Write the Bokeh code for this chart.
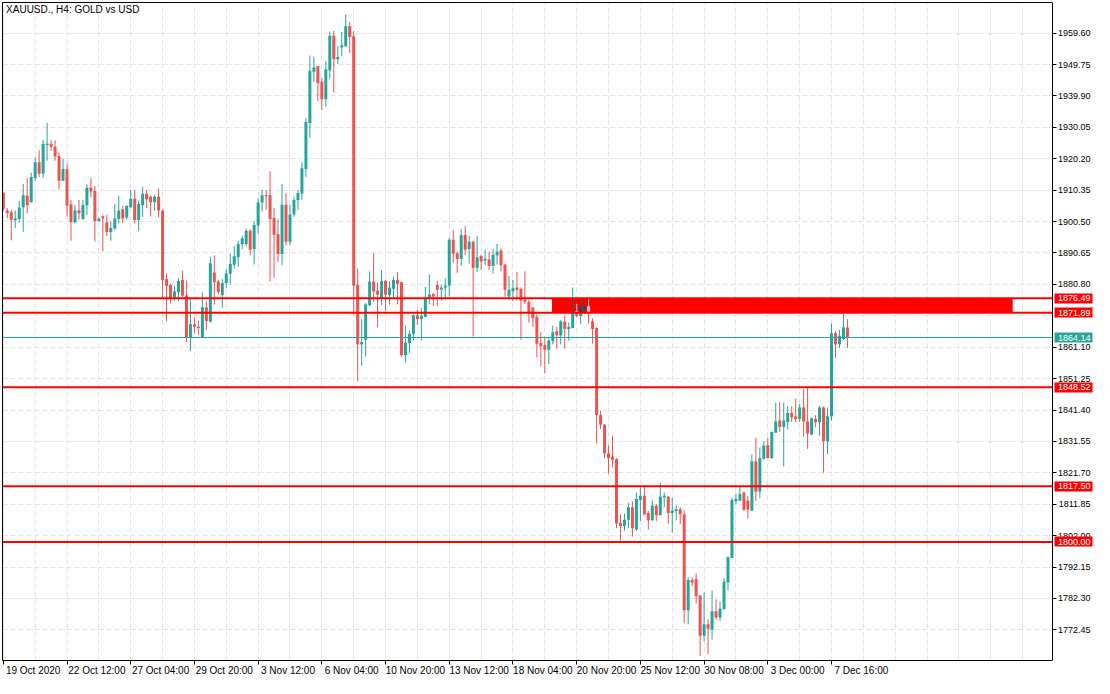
from bokeh.plotting import figure
from bokeh.models import ColumnDataSource, Range1d, FixedTicker, Label, NumeralTickFormatter, LinearAxis
from bokeh.embed import file_html
from bokeh.resources import INLINE

chart_title = "XAUUSD., H4:  GOLD vs USD"

opens = [
    1909.5, 1904.0, 1903.4, 1900.9, 1901.3, 1905.0, 1908.6, 1906.6, 1914.2, 1919.1,
    1915.5, 1924.7, 1924.9, 1924.0, 1921.1, 1913.3, 1916.9, 1905.9, 1900.3, 1904.0,
    1901.3, 1905.6, 1911.1, 1910.1, 1900.6, 1902.2, 1900.3, 1897.2, 1898.3, 1901.3,
    1904.4, 1901.8, 1905.0, 1907.7, 1901.0, 1905.6, 1909.2, 1908.3, 1906.6, 1908.3,
    1904.0, 1882.5, 1880.6, 1876.7, 1878.3, 1882.2, 1877.3, 1864.2, 1868.3, 1867.5,
    1864.2, 1873.6, 1869.1, 1884.5, 1881.7, 1877.4, 1881.2, 1884.1, 1887.0, 1889.3,
    1893.5, 1893.5, 1897.6, 1891.9, 1899.3, 1906.5, 1908.8, 1908.8, 1901.6, 1896.5,
    1890.3, 1905.8, 1894.2, 1902.7, 1907.3, 1909.3, 1917.0, 1931.4, 1947.5, 1949.3,
    1944.4, 1938.9, 1948.0, 1958.8, 1951.4, 1955.2, 1955.5, 1961.8, 1958.6, 1880.6,
    1862.0, 1863.4, 1874.3, 1881.7, 1878.8, 1876.3, 1881.9, 1877.4, 1879.4, 1882.2,
    1881.5, 1858.6, 1862.4, 1865.3, 1871.1, 1869.9, 1870.6, 1876.5, 1877.8, 1880.6,
    1879.2, 1879.8, 1880.4, 1894.8, 1890.6, 1888.8, 1896.3, 1891.9, 1894.2, 1886.0,
    1889.7, 1888.3, 1888.6, 1886.6, 1889.9, 1891.4, 1887.0, 1877.0, 1878.6, 1879.8,
    1879.4, 1876.0, 1875.3, 1873.5, 1870.6, 1862.4, 1861.7, 1860.3, 1863.0, 1866.1,
    1864.8, 1869.1, 1866.8, 1867.1, 1872.4, 1870.9, 1872.9, 1873.9, 1869.2, 1867.1,
    1839.8, 1836.8, 1827.8, 1826.8, 1826.0, 1806.0, 1805.0, 1807.0, 1810.9, 1803.9,
    1813.2, 1814.5, 1809.1, 1806.8, 1811.4, 1808.4, 1814.0, 1814.2, 1809.1, 1809.7,
    1810.3, 1808.7, 1778.6, 1788.1, 1788.4, 1783.2, 1770.6, 1774.2, 1772.5, 1778.3,
    1776.3, 1778.9, 1787.3, 1795.0, 1812.8, 1813.0, 1815.5, 1813.0, 1809.9, 1825.3,
    1815.8, 1826.1, 1830.4, 1826.3, 1834.3, 1838.1, 1836.1, 1837.6, 1840.5, 1839.4,
    1838.6, 1842.2, 1837.8, 1833.7, 1838.6, 1837.6, 1842.2, 1831.6, 1839.4, 1865.5,
    1862.0, 1863.7, 1867.3,
]
highs = [
    1909.8, 1904.8, 1904.2, 1904.0, 1907.1, 1912.3, 1914.1, 1915.8, 1920.6, 1922.9,
    1926.2, 1931.5, 1926.0, 1926.0, 1922.1, 1920.2, 1918.7, 1907.3, 1905.6, 1907.3,
    1907.3, 1912.2, 1914.1, 1911.7, 1901.7, 1902.6, 1902.6, 1900.6, 1906.0, 1908.6,
    1905.5, 1905.6, 1910.4, 1910.4, 1907.1, 1911.3, 1910.4, 1908.6, 1908.9, 1910.8,
    1904.2, 1884.2, 1881.1, 1880.3, 1882.7, 1885.0, 1881.9, 1876.5, 1870.4, 1869.5,
    1878.3, 1875.5, 1889.5, 1889.9, 1882.2, 1882.5, 1885.6, 1890.4, 1892.9, 1894.5,
    1896.0, 1898.3, 1898.1, 1900.6, 1907.8, 1910.4, 1910.4, 1916.3, 1904.7, 1901.3,
    1912.2, 1909.5, 1905.8, 1908.3, 1910.4, 1919.1, 1932.9, 1952.6, 1952.2, 1949.3,
    1945.7, 1950.9, 1960.1, 1960.3, 1955.5, 1960.0, 1965.4, 1963.1, 1960.3, 1885.8,
    1869.9, 1875.0, 1884.9, 1890.6, 1881.5, 1885.3, 1882.2, 1881.7, 1883.2, 1884.7,
    1881.7, 1868.0, 1866.3, 1871.4, 1872.9, 1873.3, 1880.0, 1883.9, 1878.1, 1881.9,
    1880.8, 1882.7, 1895.5, 1897.9, 1891.1, 1898.1, 1899.1, 1896.0, 1894.5, 1896.0,
    1890.1, 1891.7, 1891.1, 1891.9, 1893.5, 1892.1, 1887.3, 1883.4, 1882.2, 1884.7,
    1879.8, 1884.9, 1876.0, 1873.7, 1871.4, 1865.8, 1864.4, 1864.2, 1867.8, 1867.5,
    1869.6, 1870.9, 1868.8, 1879.8, 1874.7, 1876.0, 1874.7, 1876.5, 1870.2, 1867.3,
    1841.2, 1837.0, 1830.4, 1833.3, 1826.3, 1808.7, 1808.9, 1812.2, 1812.8, 1815.5,
    1817.1, 1817.6, 1809.7, 1813.0, 1811.9, 1818.6, 1815.5, 1814.5, 1813.8, 1811.4,
    1810.9, 1809.9, 1788.9, 1788.9, 1790.2, 1783.4, 1784.1, 1775.8, 1784.8, 1782.0,
    1781.2, 1788.6, 1795.5, 1813.8, 1815.2, 1817.3, 1815.8, 1814.5, 1827.5, 1832.7,
    1829.6, 1831.6, 1832.7, 1834.7, 1843.7, 1843.9, 1843.7, 1842.7, 1842.5, 1844.9,
    1843.2, 1848.0, 1848.3, 1839.1, 1839.8, 1842.7, 1842.5, 1842.2, 1868.5, 1866.1,
    1866.5, 1871.6, 1869.9,
]
lows = [
    1903.8, 1901.6, 1894.6, 1898.5, 1900.1, 1897.3, 1903.2, 1906.5, 1913.4, 1914.5,
    1914.2, 1919.6, 1922.7, 1919.6, 1910.6, 1913.2, 1902.1, 1894.5, 1899.9, 1901.1,
    1901.1, 1902.6, 1908.1, 1894.2, 1900.5, 1891.2, 1896.0, 1894.5, 1897.8, 1899.9,
    1900.1, 1901.1, 1904.8, 1899.9, 1897.5, 1901.9, 1904.7, 1902.1, 1903.9, 1901.9,
    1876.7, 1869.3, 1874.8, 1875.7, 1875.5, 1877.0, 1862.7, 1859.9, 1865.4, 1864.9,
    1864.2, 1866.6, 1868.8, 1874.5, 1877.6, 1873.5, 1879.6, 1880.8, 1885.8, 1886.3,
    1891.9, 1892.7, 1889.9, 1887.0, 1896.8, 1903.7, 1904.2, 1881.7, 1882.9, 1887.8,
    1886.8, 1893.1, 1893.1, 1902.0, 1904.2, 1907.3, 1914.5, 1926.8, 1944.4, 1938.3,
    1935.5, 1936.5, 1945.2, 1940.9, 1949.9, 1952.4, 1955.2, 1953.4, 1871.4, 1850.4,
    1855.2, 1858.1, 1874.0, 1875.3, 1867.3, 1874.3, 1872.4, 1874.5, 1876.3, 1874.5,
    1858.1, 1856.2, 1859.3, 1863.2, 1868.1, 1863.2, 1870.6, 1874.5, 1874.0, 1874.0,
    1875.7, 1876.0, 1877.0, 1887.5, 1884.4, 1886.6, 1889.9, 1887.3, 1864.4, 1884.7,
    1885.3, 1886.8, 1885.3, 1884.2, 1887.0, 1884.9, 1877.0, 1876.0, 1875.5, 1875.7,
    1863.4, 1874.7, 1868.8, 1867.5, 1857.9, 1855.0, 1852.8, 1855.8, 1862.0, 1860.6,
    1862.0, 1860.6, 1863.2, 1867.1, 1870.4, 1868.3, 1871.4, 1868.5, 1862.2, 1830.9,
    1835.5, 1826.3, 1821.4, 1823.4, 1804.3, 1800.4, 1803.5, 1804.3, 1801.7, 1803.5,
    1806.6, 1808.4, 1803.9, 1806.6, 1806.6, 1808.4, 1810.9, 1805.6, 1802.9, 1806.8,
    1805.6, 1774.5, 1774.2, 1786.1, 1780.7, 1764.3, 1768.9, 1764.8, 1769.4, 1775.6,
    1775.2, 1778.9, 1784.8, 1795.0, 1811.9, 1812.8, 1809.7, 1807.3, 1809.7, 1812.8,
    1813.8, 1825.8, 1826.3, 1826.1, 1834.3, 1834.5, 1823.7, 1835.3, 1837.6, 1837.6,
    1837.6, 1833.0, 1829.2, 1833.5, 1836.0, 1833.3, 1821.7, 1827.5, 1838.1, 1857.9,
    1860.9, 1863.4, 1860.9,
]
closes = [
    1904.5, 1903.2, 1901.1, 1901.5, 1904.9, 1908.8, 1905.6, 1914.5, 1919.1, 1915.5,
    1924.9, 1924.9, 1924.0, 1920.9, 1913.3, 1917.0, 1905.5, 1900.3, 1904.0, 1903.0,
    1905.7, 1911.1, 1909.9, 1900.6, 1901.5, 1901.5, 1897.2, 1898.5, 1901.5, 1904.0,
    1901.5, 1905.4, 1907.7, 1901.0, 1906.0, 1909.2, 1907.5, 1906.6, 1908.3, 1904.0,
    1882.2, 1880.3, 1876.5, 1878.6, 1881.9, 1877.2, 1864.2, 1868.3, 1867.5, 1867.3,
    1873.6, 1869.3, 1887.4, 1881.5, 1878.4, 1881.2, 1884.2, 1887.2, 1889.6, 1893.5,
    1895.3, 1897.6, 1891.7, 1899.4, 1906.5, 1908.8, 1908.6, 1901.3, 1896.4, 1890.3,
    1905.8, 1894.2, 1902.7, 1907.3, 1909.5, 1917.2, 1931.7, 1947.8, 1948.8, 1944.0,
    1938.9, 1948.3, 1958.8, 1951.4, 1952.1, 1955.8, 1961.8, 1958.4, 1880.4, 1862.0,
    1862.7, 1874.5, 1881.7, 1878.6, 1877.6, 1881.9, 1877.6, 1879.8, 1882.2, 1881.0,
    1858.6, 1862.5, 1865.3, 1871.1, 1869.9, 1870.9, 1876.5, 1877.6, 1877.0, 1879.1,
    1879.8, 1880.4, 1894.8, 1890.4, 1888.8, 1896.3, 1891.7, 1894.2, 1886.0, 1889.3,
    1888.0, 1888.8, 1886.6, 1890.1, 1891.1, 1886.8, 1879.1, 1879.1, 1879.6, 1879.1,
    1875.7, 1875.3, 1871.6, 1870.2, 1862.2, 1861.4, 1860.3, 1863.2, 1865.8, 1864.8,
    1869.2, 1866.8, 1867.5, 1871.9, 1870.9, 1873.3, 1873.9, 1872.2, 1866.8, 1839.8,
    1836.8, 1827.8, 1826.3, 1825.8, 1805.8, 1805.0, 1807.0, 1810.9, 1804.3, 1813.5,
    1814.5, 1808.7, 1806.8, 1811.4, 1808.4, 1814.2, 1814.5, 1809.1, 1809.9, 1810.3,
    1808.7, 1778.6, 1788.1, 1787.3, 1783.0, 1770.6, 1774.2, 1772.8, 1778.3, 1776.3,
    1779.1, 1787.5, 1795.2, 1813.2, 1813.5, 1815.0, 1810.1, 1810.1, 1825.3, 1815.8,
    1826.3, 1830.2, 1826.3, 1834.5, 1837.8, 1836.1, 1838.1, 1840.5, 1839.1, 1838.6,
    1842.2, 1837.8, 1834.0, 1838.8, 1837.6, 1842.2, 1831.6, 1839.4, 1865.5, 1862.0,
    1864.7, 1867.3, 1864.14,
]

tick_bars = [0, 16, 32, 48, 64, 80, 96, 112, 128, 144, 160, 176, 192, 208]
tick_labels = ["19 Oct 2020", "22 Oct 12:00", "27 Oct 04:00", "29 Oct 20:00", "3 Nov 12:00",
               "6 Nov 04:00", "10 Nov 20:00", "13 Nov 12:00", "18 Nov 04:00", "20 Nov 20:00",
               "25 Nov 12:00", "30 Nov 08:00", "3 Dec 00:00", "7 Dec 16:00"]
price_ticks = [1959.60, 1949.75, 1939.90, 1930.05, 1920.20, 1910.35, 1900.50, 1890.65,
               1880.80, 1870.95, 1861.10, 1851.25, 1841.40, 1831.55, 1821.70, 1811.85,
               1802.00, 1792.15, 1782.30, 1772.45]
level_lines = [1876.49, 1871.89, 1848.52, 1817.50, 1800.00]
last_price = 1864.14
zone_low = 1871.89
zone_high = 1876.49
zone_start_bar = 137.8
zone_end_bar = 253.5

# ---- styling / layout ----
GREEN = "#26a69a"
RED = "#ef5350"
GREEN_IN_ZONE = "#25454c"
RED_IN_ZONE = "#f6bcbc"
LEVEL_RED = "#ff0000"
FONT = "Liberation Sans"
W, H = 1094, 678
BORDER_L, BORDER_T = 2, 2
AXIS_PAGE_X = 1052           # where the price scale line sits
X_START, AXIS_X = -0.2, 263.5
Y_START, Y_END = 1762.83, 1969.22
px_per_bar = (AXIS_PAGE_X - BORDER_L) / (AXIS_X - X_START)
X_VIEW_END = X_START + (W - BORDER_L) / px_per_bar
BODY_W = 0.75
MIN_BODY = 0.35

n = len(opens)
idx = list(range(n))
is_up = [c >= o for o, c in zip(opens, closes)]
colors = [GREEN if u else RED for u in is_up]
b_top = [max(o, c) for o, c in zip(opens, closes)]
b_bot = [min(min(o, c), max(o, c) - MIN_BODY) for o, c in zip(opens, closes)]

src = ColumnDataSource(dict(x=idx, high=highs, low=lows, top=b_top, bottom=b_bot, color=colors))

p = figure(width=W, height=H, x_range=Range1d(X_START, X_VIEW_END), y_range=Range1d(Y_START, Y_END),
           y_axis_location=None, x_axis_location="below", output_backend="svg", toolbar_location=None,
           min_border_left=BORDER_L, min_border_top=BORDER_T, min_border_right=0, min_border_bottom=0,
           background_fill_color="white", border_fill_color="white", outline_line_color=None)

# grids
p.ygrid.ticker = FixedTicker(ticks=price_ticks)
p.xgrid.ticker = FixedTicker(ticks=list(range(0, 264, 8)))
for g in (p.xgrid[0], p.ygrid[0]):
    g.grid_line_color = "#e3e3e3"
    g.grid_line_dash = "5 3"
    g.grid_line_width = 1

# blank price-scale strip to the right of the chart
p.quad(left=[AXIS_X], right=[X_VIEW_END], bottom=[Y_START], top=[Y_END], fill_color="white", line_color=None)

# zone rectangle
p.quad(left=[zone_start_bar], right=[zone_end_bar], bottom=[zone_low], top=[zone_high],
       fill_color=LEVEL_RED, line_color=None)

# candles
p.segment(x0="x", y0="low", x1="x", y1="high", line_color="color", line_width=1, source=src)
p.vbar(x="x", width=BODY_W, top="top", bottom="bottom", fill_color="color", line_color=None, source=src)

# candle parts inside the zone drawn in blended colours
zw = dict(x=[], y0=[], y1=[], color=[])
zb = dict(x=[], top=[], bottom=[], color=[])
for i in range(n):
    if zone_start_bar <= i <= zone_end_bar:
        col = GREEN_IN_ZONE if is_up[i] else RED_IN_ZONE
        wl, wh = max(lows[i], zone_low), min(highs[i], zone_high)
        if wh > wl:
            zw["x"].append(i); zw["y0"].append(wl); zw["y1"].append(wh); zw["color"].append(col)
        bl, bh = max(b_bot[i], zone_low), min(b_top[i], zone_high)
        if bh > bl:
            zb["x"].append(i); zb["top"].append(bh); zb["bottom"].append(bl); zb["color"].append(col)
p.segment(x0="x", y0="y0", x1="x", y1="y1", line_color="color", line_width=1, source=ColumnDataSource(zw))
p.vbar(x="x", width=BODY_W, top="top", bottom="bottom", fill_color="color", line_color=None,
       source=ColumnDataSource(zb))

# horizontal lines (end at the price scale)
p.segment(x0=[X_START], y0=[last_price], x1=[AXIS_X], y1=[last_price], line_color=GREEN, line_width=1)
p.segment(x0=[X_START] * len(level_lines), y0=level_lines, x1=[AXIS_X] * len(level_lines), y1=level_lines,
          line_color=LEVEL_RED, line_width=2)

# x axis
xa = p.xaxis[0]
label_pos = [b + 7.5 for b in tick_bars]
xa.ticker = FixedTicker(ticks=label_pos, minor_ticks=tick_bars)
xa.major_label_overrides = {pos: lab for pos, lab in zip(label_pos, tick_labels)}
xa.bounds = (X_START, AXIS_X)
xa.major_tick_out = 4
xa.major_tick_in = 0
xa.major_tick_line_color = None
xa.minor_tick_out = 4
xa.minor_tick_in = 0
xa.minor_tick_line_color = "black"
xa.major_label_standoff = 0
xa.major_label_text_font = FONT
xa.major_label_text_font_size = "10px"
xa.major_label_text_color = "black"
xa.axis_line_color = "black"

# chart frame: left and top border lines
left_border = LinearAxis(ticker=FixedTicker(ticks=[]), axis_line_color="black",
                         major_tick_line_color=None, minor_tick_line_color=None)
p.add_layout(left_border, "left")
top_border = LinearAxis(ticker=FixedTicker(ticks=[]), axis_line_color="black", bounds=(X_START, AXIS_X),
                        major_tick_line_color=None, minor_tick_line_color=None)
p.add_layout(top_border, "above")

# price scale at the right edge of the chart
label_ticks = [t for t in price_ticks if min(abs(t - v) for v in level_lines + [last_price]) > 1.5]
ya = LinearAxis(ticker=FixedTicker(ticks=label_ticks), formatter=NumeralTickFormatter(format="0.00"),
                fixed_location=AXIS_X, axis_line_color="black",
                major_tick_out=0, major_tick_in=4, major_tick_line_color="black", minor_tick_line_color=None,
                major_label_standoff=-38, major_label_text_color="black",
                major_label_text_font=FONT, major_label_text_font_size="9px")
p.add_layout(ya, "left")

# price boxes on the price scale
box_loc = AXIS_X + 2 / px_per_bar
BOX_LEN = 38
for ticks_, col in ((level_lines, LEVEL_RED), ([last_price], GREEN)):
    bx = LinearAxis(ticker=FixedTicker(ticks=ticks_), formatter=NumeralTickFormatter(format="0.00"),
                    fixed_location=box_loc, axis_line_color=None,
                    major_tick_out=0, major_tick_in=BOX_LEN, major_tick_line_color=col,
                    major_tick_line_width=10, minor_tick_line_color=None,
                    major_label_standoff=-36, major_label_text_color="white",
                    major_label_text_font=FONT, major_label_text_font_size="9px",
                    level="overlay")
    p.add_layout(bx, "left")

# title
p.add_layout(Label(x=X_START + 0.9, y=Y_END - 0.6, text=chart_title, text_color="black", text_font=FONT,
                   text_font_size="10px", text_baseline="top", text_align="left"))

open("out.html", "w").write(file_html(p, INLINE))
